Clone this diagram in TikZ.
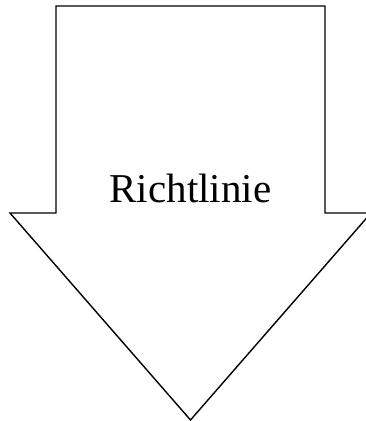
\documentclass[tikz,border=0pt]{standalone}
\usepackage{fontspec}
\setmainfont{Liberation Serif}
\usepackage{tikz}

\begin{document}
\begin{tikzpicture}[x=1pt, y=-1pt,
    outline/.style={draw=black, line width=1.4pt, line join=miter},
    caption/.style={font=\fontsize{41}{48}\selectfont, inner sep=0pt, anchor=base}]

    % Page size of the reference
    \useasboundingbox (0,0) rectangle (365,421);

    % Big arrow pointing down
    \draw[outline] (56,6) -- (325,6) -- (325,213) -- (371,213)
        -- (190.5,420) -- (10,213) -- (56,213) -- cycle;

    % Label inside the arrow
    \node[caption] (rule) at (190.5,202) {Richtlinie};
\end{tikzpicture}
\end{document}
